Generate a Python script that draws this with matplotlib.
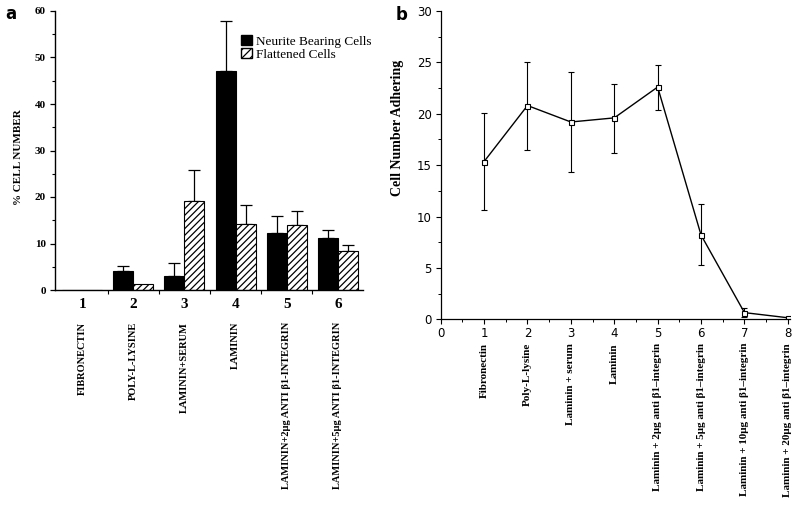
import matplotlib
matplotlib.use("Agg")
import matplotlib.pyplot as plt
import numpy as np
from matplotlib.ticker import MultipleLocator, FixedLocator
from matplotlib.patches import Patch

# ---------------- data: panel a ----------------
a_numbers = ["1", "2", "3", "4", "5", "6"]
a_categories = ["FIBRONECTIN", "POLY-L-LYSINE", "LAMININ+SERUM", "LAMININ",
                "LAMININ+2μg ANTI β1-INTEGRIN", "LAMININ+5μg ANTI β1-INTEGRIN"]
neurite = [0, 4.1, 3.0, 47.1, 12.3, 11.2]
neurite_err = [0, 1.05, 2.7, 10.7, 3.6, 1.6]
flattened = [0, 1.35, 19.2, 14.1, 13.9, 8.3]
flattened_err = [0, 0, 6.7, 4.1, 3.0, 1.4]
a_yticks = [0, 10, 20, 30, 40, 50, 60]

# ---------------- data: panel b ----------------
b_x = [1, 2, 3, 4, 5, 6, 7, 8]
b_categories = ["Fibronectin", "Poly-L-lysine", "Laminin + serum", "Laminin",
                "Laminin + 2μg anti β1–integrin", "Laminin + 5μg anti β1–integrin",
                "Laminin + 10μg anti β1–integrin", "Laminin + 20μg anti β1–integrin"]
b_mean = [15.35, 20.8, 19.2, 19.6, 22.6, 8.2, 0.65, 0.15]
b_upper = [20.05, 25.05, 24.1, 22.85, 24.75, 11.2, 1.1, 0.25]
b_lower = [10.65, 16.5, 14.3, 16.2, 20.4, 5.3, 0.25, 0.05]
b_xticks = [0, 1, 2, 3, 4, 5, 6, 7, 8]
b_yticks = [0, 5, 10, 15, 20, 25, 30]

SERIF = ["Liberation Serif", "DejaVu Serif"]
SANS = ["DejaVu Sans"]
W, H = 800, 512

fig = plt.figure(figsize=(8, 5.12), dpi=100)
fig.patch.set_facecolor("white")
plt.rcParams["hatch.linewidth"] = 0.9

# ---------------- panel a ----------------
axa = fig.add_axes([55 / W, (H - 290) / H, (363 - 55) / W, (290 - 11) / H])
x = np.arange(1, len(a_numbers) + 1)
bw = 0.39
axa.bar(x - bw / 2, neurite, width=bw, color="black", edgecolor="black", linewidth=0.8, zorder=2)
axa.bar(x + bw / 2, flattened, width=bw, color="white", edgecolor="black", linewidth=0.8,
        hatch="/////", zorder=2)
ne = np.array(neurite_err)
fe = np.array(flattened_err)
m = ne > 0
axa.errorbar((x - bw / 2)[m], np.array(neurite)[m], yerr=[np.zeros(m.sum()), ne[m]],
             fmt="none", ecolor="black", elinewidth=0.9, capsize=4.3, capthick=0.9, zorder=1)
m = fe > 0
axa.errorbar((x + bw / 2)[m], np.array(flattened)[m], yerr=[np.zeros(m.sum()), fe[m]],
             fmt="none", ecolor="black", elinewidth=0.9, capsize=4.3, capthick=0.9, zorder=1)

axa.set_xlim(0.47, 6.49)
axa.set_ylim(0, 60)
for s in ["top", "right"]:
    axa.spines[s].set_visible(False)
for s in ["left", "bottom"]:
    axa.spines[s].set_linewidth(1.0)
axa.set_yticks(a_yticks)
axa.yaxis.set_minor_locator(MultipleLocator(5))
axa.tick_params(axis="y", which="major", length=3.5, width=0.9, pad=3)
axa.tick_params(axis="y", which="minor", length=2, width=0.8)
for lab in axa.get_yticklabels():
    lab.set_fontfamily(SERIF)
    lab.set_fontweight("bold")
    lab.set_fontsize(8)
axa.set_xticks(x)
axa.set_xticklabels(a_numbers, fontfamily=SERIF, fontweight="bold", fontsize=11)
axa.tick_params(axis="x", which="major", length=0, pad=6)
axa.xaxis.set_minor_locator(FixedLocator(np.arange(1.5, 6.0, 1.0)))
axa.tick_params(axis="x", which="minor", length=3, width=0.8)
axa.set_ylabel("% CELL NUMBER", fontfamily=SERIF, fontweight="bold", fontsize=8)
axa.yaxis.set_label_coords((23 - 55) / (363 - 55), (290 - 157) / (290 - 11))
for xi, name in zip(x, a_categories):
    axa.text(xi, (290 - 322) / (290 - 11), name, transform=axa.get_xaxis_transform(),
             rotation=90, ha="center", va="top", fontfamily=SERIF, fontweight="bold",
             fontsize=7.5)

handles = [Patch(facecolor="black", edgecolor="black"),
           Patch(facecolor="white", edgecolor="black", hatch="////")]
axa.legend(handles, ["Neurite Bearing Cells", "Flattened Cells"],
           loc="upper left", bbox_to_anchor=((241 - 55) / (363 - 55), (290 - 35) / (290 - 11)),
           frameon=False, prop={"family": SERIF, "size": 9.5},
           handlelength=0.8, handleheight=0.8, handletextpad=0.3, labelspacing=0.05,
           borderaxespad=0, borderpad=0)

fig.text(11 / W, 1 - 14 / H, "a", fontfamily=SANS, fontweight="bold", fontsize=12,
         ha="center", va="center")

# ---------------- panel b ----------------
axb = fig.add_axes([440.7 / W, (H - 319.3) / H, (790 - 440.7) / W, (319.3 - 11) / H])
bm = np.array(b_mean)
yerr_b = [bm - np.array(b_lower), np.array(b_upper) - bm]
axb.errorbar(b_x, b_mean, yerr=yerr_b, fmt="-", color="black", lw=1.0,
             ecolor="black", elinewidth=0.8, capsize=2, capthick=0.8,
             marker="s", markersize=3.6, markerfacecolor="white",
             markeredgecolor="black", markeredgewidth=0.8)
axb.set_xlim(0, 8.05)
axb.set_ylim(0, 30)
for s in ["top", "right"]:
    axb.spines[s].set_visible(False)
for s in ["left", "bottom"]:
    axb.spines[s].set_linewidth(0.9)
axb.set_xticks(b_xticks)
axb.set_yticks(b_yticks)
axb.xaxis.set_minor_locator(MultipleLocator(0.5))
axb.yaxis.set_minor_locator(MultipleLocator(2.5))
axb.tick_params(which="major", length=3.5, width=0.8)
axb.tick_params(which="minor", length=2, width=0.7)
axb.tick_params(axis="y", pad=3)
axb.tick_params(axis="x", pad=2)
for lab in axb.get_xticklabels() + axb.get_yticklabels():
    lab.set_fontfamily(SANS)
    lab.set_fontsize(8.5)
axb.set_ylabel("Cell Number Adhering", fontfamily=SERIF, fontweight="bold", fontsize=10)
axb.yaxis.set_label_coords((404 - 440.7) / (790 - 440.7), (319.3 - 128) / (319.3 - 11))
for xi, name in zip(b_x, b_categories):
    axb.text(xi, (319.3 - 343) / (319.3 - 11), name, transform=axb.get_xaxis_transform(),
             rotation=90, ha="center", va="top", fontfamily=SERIF, fontweight="bold",
             fontsize=8)

fig.text(402 / W, 1 - 15 / H, "b", fontfamily=SANS, fontweight="bold", fontsize=12,
         ha="center", va="center")

fig.savefig("out.png", dpi=100, facecolor="white")
